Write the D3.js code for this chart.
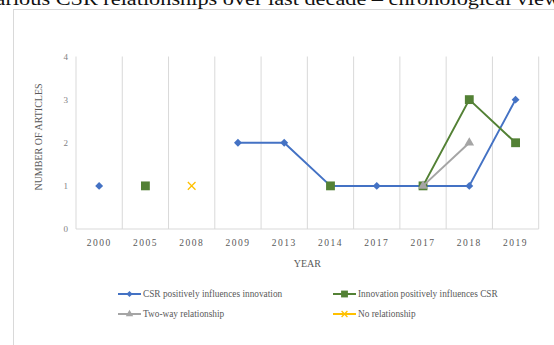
<!DOCTYPE html>
<html>
<head>
<meta charset="utf-8">
<script src="https://cdn.jsdelivr.net/npm/d3@7"></script>
<style>
html,body{margin:0;padding:0;background:#fff;overflow:hidden;}
svg{display:block;}
</style>
</head>
<body>
<svg id="chart" width="554" height="345"></svg>
<script>
// ---- data ----
const years = ["2000","2005","2008","2009","2013","2014","2017","2017","2018","2019"];
const csrToInnovation = [1, null, null, 2, 2, 1, 1, 1, 1, 3];
const innovationToCsr = [null, 1, null, null, null, 1, null, 1, 3, 2];
const twoWay = [null, null, null, null, null, null, null, 1, 2, null];
const noRelationship = [null, null, 1, null, null, null, null, null, null, null];
const yTicks = [0, 1, 2, 3, 4];
const seriesNames = ["CSR positively influences innovation", "Innovation positively influences CSR", "Two-way relationship", "No relationship"];
const titleText = "Various CSR relationships over last decade \u2013 chronological view";

const svg = d3.select("#chart");
const serif = "'Liberation Serif','Times New Roman',serif";

// title (partially cut at top, as in the reference)
svg.append("text").attr("x", -18).attr("y", 4.5)
  .attr("textLength", 578).attr("lengthAdjust", "spacingAndGlyphs")
  .style("font-family", serif).style("font-size", "18px").attr("fill", "#111")
  .text(titleText);

// chart frame
svg.append("rect").attr("x", 13.5).attr("y", 9.5).attr("width", 600).attr("height", 400)
  .attr("fill", "#fff").attr("stroke", "#d9d9d9").attr("stroke-width", 1);

const plot = {left: 76, right: 538.7, top: 56.5, bottom: 229};
const idx = d3.range(years.length);
const x = d3.scaleBand().domain(idx).range([plot.left, plot.right]).padding(0);
const y = d3.scaleLinear().domain([0, 4]).range([plot.bottom, plot.top]);
const cx = i => x(i) + x.bandwidth() / 2;

// vertical gridlines at band boundaries
const bounds = idx.map(i => x(i)).concat([plot.right]);
svg.append("g").selectAll("line").data(bounds).join("line")
  .attr("x1", d => d).attr("x2", d => d).attr("y1", plot.top).attr("y2", plot.bottom)
  .attr("stroke", "#d9d9d9").attr("stroke-width", 1);
// bottom axis line
svg.append("line").attr("x1", plot.left).attr("x2", plot.right)
  .attr("y1", plot.bottom).attr("y2", plot.bottom).attr("stroke", "#d9d9d9");

// y axis labels
const yAxis = d3.axisLeft(y).tickValues(yTicks).tickSize(0).tickPadding(8).tickFormat(d3.format("d"));
const gy = svg.append("g").attr("transform", `translate(${plot.left},0)`).call(yAxis);
gy.select(".domain").remove();
gy.selectAll("text").style("font-family", serif).style("font-size", "9px").attr("fill", "#7f7f7f");

// x axis labels
const xAxis = d3.axisBottom(x).tickSize(0).tickPadding(10).tickFormat(i => years[i]);
const gx = svg.append("g").attr("transform", `translate(0,${plot.bottom})`).call(xAxis);
gx.select(".domain").remove();
gx.selectAll("text").style("font-family", serif).style("font-size", "9.5px")
  .style("letter-spacing", "1.5px").attr("fill", "#595959");

// axis titles
svg.append("text").attr("x", (plot.left + plot.right) / 2).attr("y", 267)
  .attr("text-anchor", "middle").style("font-family", serif).style("font-size", "10px")
  .attr("fill", "#595959").text("YEAR");
svg.append("text").attr("transform", "translate(42,137) rotate(-90)")
  .attr("text-anchor", "middle").style("font-family", serif).style("font-size", "10px")
  .attr("fill", "#595959").text("NUMBER OF ARTICLES");

// series
const series = [
  {name: seriesNames[0], values: csrToInnovation, color: "#4472C4", marker: "diamond"},
  {name: seriesNames[1], values: innovationToCsr, color: "#538135", marker: "square"},
  {name: seriesNames[2], values: twoWay, color: "#A5A5A5", marker: "triangle"},
  {name: seriesNames[3], values: noRelationship, color: "#FFC000", marker: "x"}
];

const line = d3.line().defined(d => d.v != null).x(d => cx(d.i)).y(d => y(d.v));

function drawMarker(g, type, px, py, color, scale) {
  scale = scale || 1;
  if (type === "diamond") {
    g.append("path").attr("d", d3.symbol(d3.symbolDiamond2, 40 * scale)())
      .attr("transform", `translate(${px},${py})`).attr("fill", color);
  } else if (type === "square") {
    g.append("path").attr("d", d3.symbol(d3.symbolSquare, 78 * scale)())
      .attr("transform", `translate(${px},${py})`).attr("fill", color);
  } else if (type === "triangle") {
    g.append("path").attr("d", d3.symbol(d3.symbolTriangle, 40 * scale)())
      .attr("transform", `translate(${px},${py})`).attr("fill", color);
  } else if (type === "x") {
    g.append("path").attr("d", d3.symbol(d3.symbolX, 40 * scale)())
      .attr("transform", `translate(${px},${py})`).attr("fill", "none")
      .attr("stroke", color).attr("stroke-width", 1.3);
  }
}

series.forEach(s => {
  const g = svg.append("g");
  const pts = s.values.map((v, i) => ({i, v}));
  g.append("path").datum(pts).attr("d", line).attr("fill", "none")
    .attr("stroke", s.color).attr("stroke-width", 2).attr("stroke-linejoin", "round");
  pts.filter(p => p.v != null).forEach(p => drawMarker(g, s.marker, cx(p.i), y(p.v), s.color));
});

// legend
const legendItems = [
  {s: series[0], lx: 118, ly: 294},
  {s: series[1], lx: 333, ly: 294},
  {s: series[2], lx: 118, ly: 314},
  {s: series[3], lx: 333, ly: 314}
];
legendItems.forEach(it => {
  const g = svg.append("g");
  g.append("line").attr("x1", it.lx).attr("x2", it.lx + 23).attr("y1", it.ly).attr("y2", it.ly)
    .attr("stroke", it.s.color).attr("stroke-width", 2);
  drawMarker(g, it.s.marker, it.lx + 11.5, it.ly, it.s.color, 0.6);
  g.append("text").attr("x", it.lx + 25).attr("y", it.ly + 3)
    .style("font-family", serif).style("font-size", "9.3px").attr("fill", "#595959")
    .text(it.s.name);
});
</script>
</body>
</html>
